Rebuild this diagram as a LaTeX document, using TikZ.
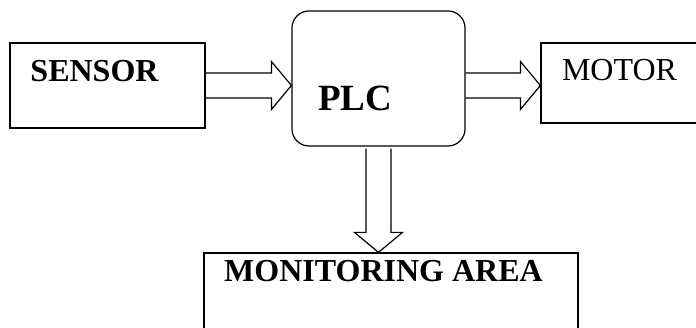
\documentclass[tikz,border=0pt]{standalone}
\usepackage{fontspec}
\setmainfont{Liberation Serif}
\usetikzlibrary{calc}

\tikzset{
  box/.style={draw, line width=1.2pt, inner sep=0pt},
  hollow/.style={draw, line width=1.2pt, line join=miter},
  labeltext/.style={inner sep=0pt, font=\fontsize{32}{36}\selectfont}
}

% block arrow from #1 to #2
\newcommand{\hollowarrow}[2]{%
  \coordinate (hb) at ($(#2)!20pt!(#1)$);
  \draw[hollow] ($(#1)!12.5pt!90:(#2)$) -- ($(hb)!12.5pt!-90:(#1)$)
    -- ($(hb)!24pt!-90:(#1)$) -- (#2) -- ($(hb)!24pt!90:(#1)$)
    -- ($(hb)!12.5pt!90:(#1)$) -- ($(#1)!12.5pt!-90:(#2)$);
}

\begin{document}
\begin{tikzpicture}[x=1pt, y=-1pt]
\clip (0,0) rectangle (696,328);

% Sensor
\node[box, minimum width=195pt, minimum height=85pt] (sensor) at (107.5,85.5) {};
\node[labeltext, font=\fontsize{32}{36}\selectfont\bfseries] (sensortext) at (94.5,71.5) {SENSOR};

% PLC
\node[box, rounded corners=17pt, minimum width=173pt, minimum height=135pt] (plc) at (378.5,78.5) {};
\node[labeltext, font=\fontsize{37}{40}\selectfont\bfseries] (plctext) at (355,98.5) {PLC};

% Motor
\node[box, minimum width=190pt, minimum height=80pt] (motor) at (636,83) {};
\node[labeltext] (motortext) at (619.5,70.5) {MOTOR};

% Monitoring area
\node[box, minimum width=374pt, minimum height=120pt] (monitor) at (391,313) {};
\node[labeltext, font=\fontsize{32}{36}\selectfont\bfseries] (monitortext) at (383.5,271) {MONITORING AREA};

% Arrows
\coordinate (a1) at (plc.west |- sensor.east);
\hollowarrow{sensor.east}{a1}
\coordinate (a2s) at (plc.east |- sensor.east);
\coordinate (a2e) at (motor.west |- sensor.east);
\hollowarrow{a2s}{a2e}
\coordinate (a3s) at ($(plc.south)+(0,2)$);
\coordinate (a3e) at (plc.south |- monitor.north);
\hollowarrow{a3s}{a3e}

\end{tikzpicture}
\end{document}
